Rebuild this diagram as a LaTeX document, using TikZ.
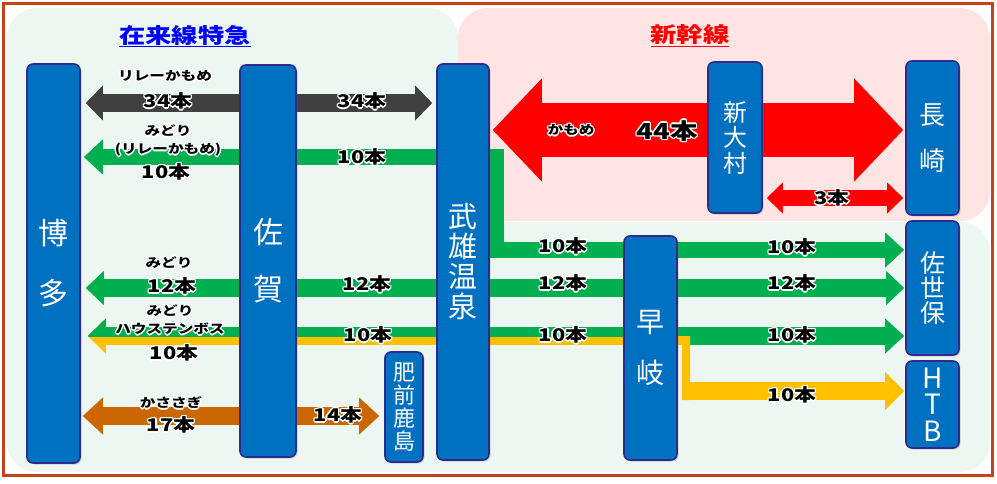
\documentclass[tikz,border=0pt]{standalone}
\usepackage{fontspec}
\usetikzlibrary{arrows.meta,shadows}
\newfontfamily\jpfont{Noto Sans CJK JP}
\newfontfamily\lblfont[FakeStretch=1.25]{Noto Sans CJK JP}
\definecolor{stblue}{HTML}{0070C0}
\definecolor{navy}{HTML}{2B2B8F}
\definecolor{grn}{HTML}{00B050}
\definecolor{yel}{HTML}{FFC000}
\definecolor{org}{HTML}{CC6600}
\definecolor{dgray}{HTML}{404040}
\definecolor{redc}{HTML}{FF0000}
\definecolor{bggreen}{HTML}{EDF7F1}
\definecolor{bgpink}{HTML}{FFE4E4}
\definecolor{framec}{HTML}{C9401C}
\definecolor{tblue}{HTML}{0000FF}
\lineskiplimit=-40pt
\newcommand\stfont[2]{\jpfont\fontsize{#1}{#2}\selectfont}
\newcommand\glow[1]{\leavevmode
 \rlap{\color{white}\kern1.4pt#1}\rlap{\color{white}\kern-1.4pt#1}%
 \rlap{\color{white}\raisebox{1.4pt}{#1}}\rlap{\color{white}\raisebox{-1.4pt}{#1}}%
 \rlap{\color{white}\kern1pt\raisebox{1pt}{#1}}\rlap{\color{white}\kern-1pt\raisebox{1pt}{#1}}%
 \rlap{\color{white}\kern1pt\raisebox{-1pt}{#1}}\rlap{\color{white}\kern-1pt\raisebox{-1pt}{#1}}%
 #1}
\pgfdeclarelayer{bg}
\pgfdeclarelayer{arrowlayer}
\pgfsetlayers{bg,arrowlayer,main}
\tikzset{
 station/.style={draw=navy, line width=1.6pt, fill=stblue, rounded corners=6pt,
   text=white, align=center, inner sep=0pt,
   drop shadow={opacity=0.3, shadow xshift=1.5pt, shadow yshift=-1.5pt}},
 sm/.style={font=\lblfont\bfseries\fontsize{12.5}{14}\selectfont, inner sep=0pt, text=black},
 num/.style={font=\lblfont\bfseries\fontsize{17.5}{19}\selectfont, inner sep=0pt, text=black},
 bignum/.style={font=\lblfont\bfseries\fontsize{22}{24}\selectfont, inner sep=0pt, text=black},
 titlefont/.style={font=\lblfont\bfseries\fontsize{21}{24}\selectfont, inner sep=0pt},
 dbl/.style n args={2}{arrows={{Triangle[length=#1,width=#2,line width=0pt]}-{Triangle[length=#1,width=#2,line width=0pt]}}},
 sgl/.style n args={2}{arrows={-{Triangle[length=#1,width=#2,line width=0pt]}}},
 lsgl/.style n args={2}{arrows={{Triangle[length=#1,width=#2,line width=0pt]}-}},
}
\begin{document}
\begin{tikzpicture}[x=1pt,y=-1pt]
\useasboundingbox (0,0) rectangle (997,483);
\begin{pgfonlayer}{bg}
\fill[white] (0,0) rectangle (997,483);
\fill[bggreen, rounded corners=30pt] (7,8) rectangle (458,472);
\fill[bggreen, rounded corners=30pt] (7,222) rectangle (990,472);
\fill[bgpink, rounded corners=30pt] (458,8) rectangle (990,221);
\draw[framec, line width=3pt] (3.5,3.5) rectangle (992,475.5);
\end{pgfonlayer}

% titles
\node[titlefont, text=tblue] (t1) at (185,36) {\underline{在来線特急}};
\node[titlefont, text=redc] (t2) at (690,36) {\underline{新幹線}};

% stations
\node[station, minimum width=53pt, minimum height=399pt, font=\stfont{30}{60}] (hakata) at (53.5,263.5) {博\\多};
\node[station, minimum width=56pt, minimum height=392pt, font=\stfont{30}{57}] (saga) at (268,261) {佐\\賀};
\node[station, minimum width=52pt, minimum height=396pt, font=\stfont{29}{30}] (takeo) at (463,262) {武\\雄\\温\\泉};
\node[station, minimum width=38pt, minimum height=110pt, font=\stfont{22}{22.7}] (hizen) at (404,407) {肥\\前\\鹿\\島};
\node[station, minimum width=54pt, minimum height=151pt, font=\stfont{24}{25.5}] (shinomura) at (735,137.5) {新\\大\\村};
\node[station, minimum width=53pt, minimum height=154pt, font=\stfont{26}{46}] (nagasaki) at (932.5,138) {長\\崎};
\node[station, minimum width=53pt, minimum height=134pt, font=\stfont{25}{25}] (sasebo) at (932.5,288) {佐\\世\\保};
\node[station, minimum width=53pt, minimum height=87pt, font=\stfont{28}{26.5}] (htb) at (932.5,404.5) {H\\T\\B};
\node[station, minimum width=53pt, minimum height=224pt, font=\stfont{28}{51}] (haiki) at (650.5,348) {早\\岐};

% arrows
\begin{pgfonlayer}{arrowlayer}
\draw[dgray, line width=18pt, dbl={17pt}{35pt}, shorten <=5pt, shorten >=4pt] (hakata.east |- 0,103) -- (takeo.west |- 0,103);
\draw[grn, line width=16pt, line join=miter, dbl={19pt}{35pt}, shorten <=3pt, shorten >=1pt] (hakata.east |- 0,157) -- (496,157) -- (496,250) -- (sasebo.west |- 0,250);
\draw[redc, line width=54pt, dbl={49pt}{103pt}, shorten <=3pt, shorten >=2pt] (takeo.east |- 0,130) -- (nagasaki.west |- 0,130);
\draw[redc, line width=16pt, dbl={16pt}{31pt}, shorten <=4pt, shorten >=2pt] (shinomura.east |- 0,198) -- (nagasaki.west |- 0,198);
\draw[grn, line width=18pt, dbl={18pt}{34pt}, shorten <=5pt, shorten >=1pt] (hakata.east |- 0,288) -- (sasebo.west |- 0,288);
\draw[yel, line width=18pt, lsgl={18pt}{35pt}, shorten <=7pt] (hakata.east |- 0,336) -- (haiki.west |- 0,336);
\begin{scope}
\clip (0,0) rectangle (997,336);
\draw[grn, line width=18pt, lsgl={18pt}{35pt}, shorten <=7pt] (hakata.east |- 0,336) -- (haiki.west |- 0,336);
\end{scope}
\draw[grn, line width=18pt, sgl={19pt}{35pt}, shorten >=1pt] (haiki.east |- 0,336) -- (sasebo.west |- 0,336);
\fill[yel] (haiki.east |- 0,336) -- (690,336) -- (690,400) -- (682,400) -- (682,345) -- (haiki.east |- 0,345) -- cycle;
\coordinate (ybend) at (682,391);
\draw[yel, line width=18pt, sgl={19pt}{38pt}, shorten >=1pt] (ybend) -- (htb.west |- ybend);
\draw[org, line width=18pt, dbl={20pt}{37pt}, shorten <=2pt, shorten >=5pt] (hakata.east |- 0,416) -- (hizen.west |- 0,416);
\end{pgfonlayer}

% labels
\node[sm] (a1) at (165,76) {\glow{リレーかもめ}};
\node[num] (a2) at (168,101) {\glow{34本}};
\node[num] (a3) at (362,101) {\glow{34本}};
\node[sm] (b1) at (168,131) {\glow{みどり}};
\node[sm] (b2) at (168,150) {\glow{(リレーかもめ)}};
\node[num] (b3) at (166,172) {\glow{10本}};
\node[num] (b4) at (362,157) {\glow{10本}};
\node[sm] (c1) at (571,130) {\glow{かもめ}};
\node[bignum] (c2) at (667,131) {\glow{44本}};
\node[num] (c3) at (832,198) {\glow{3本}};
\node[num] (d1) at (563,246) {\glow{10本}};
\node[num] (d2) at (792,247) {\glow{10本}};
\node[sm] (e1) at (169,263) {\glow{みどり}};
\node[num] (e2) at (172,286) {\glow{12本}};
\node[num] (e3) at (367,284) {\glow{12本}};
\node[num] (e4) at (563,283) {\glow{12本}};
\node[num] (e5) at (792,283) {\glow{12本}};
\node[sm] (f1) at (170,311) {\glow{みどり}};
\node[sm] (f2) at (170,329) {\glow{ハウステンボス}};
\node[num] (f3) at (174,353) {\glow{10本}};
\node[num] (f4) at (368,335) {\glow{10本}};
\node[num] (f5) at (563,335) {\glow{10本}};
\node[num] (f6) at (792,335) {\glow{10本}};
\node[num] (g1) at (792,395) {\glow{10本}};
\node[sm] (h1) at (171,403) {\glow{かささぎ}};
\node[num] (h2) at (171,425) {\glow{17本}};
\node[num] (h3) at (338,415) {\glow{14本}};
\end{tikzpicture}
\end{document}
